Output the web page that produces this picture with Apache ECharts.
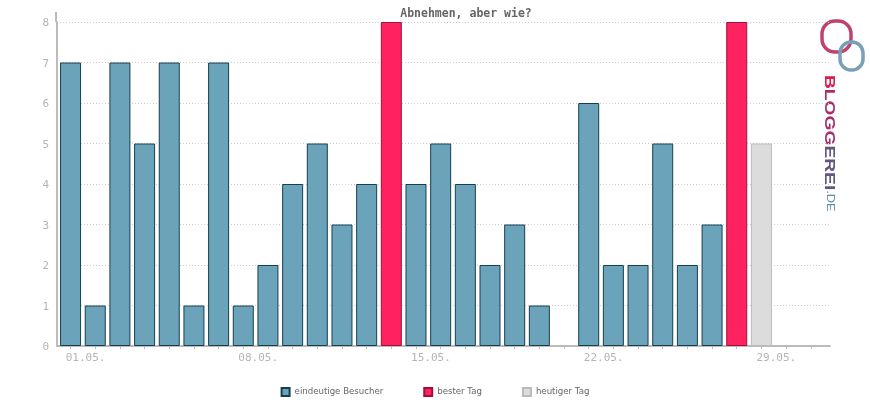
<!DOCTYPE html>
<html><head><meta charset="utf-8">
<script src="https://cdn.jsdelivr.net/npm/echarts@6/dist/echarts.min.js"></script>
<style>html,body{margin:0;padding:0;background:#fff}#c{width:870px;height:400px}</style>
</head><body><div id="c"></div>
<script>
const title = 'Abnehmen, aber wie?';
const days = ['01.05.','02.05.','03.05.','04.05.','05.05.','06.05.','07.05.','08.05.','09.05.','10.05.','11.05.','12.05.','13.05.','14.05.','15.05.','16.05.','17.05.','18.05.','19.05.','20.05.','21.05.','22.05.','23.05.','24.05.','25.05.','26.05.','27.05.','28.05.','29.05.','30.05.','31.05.'];
const visitors = [7,1,7,5,7,1,7,1,2,4,5,3,4,null,4,5,4,2,3,1,0,6,2,2,5,2,3,null,null,null,null];
const bestDay  = [null,null,null,null,null,null,null,null,null,null,null,null,null,8,null,null,null,null,null,null,null,null,null,null,null,null,null,8,null,null,null];
const today    = [null,null,null,null,null,null,null,null,null,null,null,null,null,null,null,null,null,null,null,null,null,null,null,null,null,null,null,null,5,null,null];
const xLabelDays = [1,8,15,22,29];
const yTicks = [0,1,2,3,4,5,6,7,8];

// zero-height bars are not drawn in the reference
const pairs = arr => arr.map((v,i)=> (v===null || v===0) ? null : [i+1, v]).filter(p=>p);
const mono = "'DejaVu Sans Mono', monospace";
const chart = echarts.init(document.getElementById('c'), null, {renderer:'canvas'});
const barW = 21;
const labelShift = 0.2; // labels start slightly left of their tick
chart.setOption({
  animation:false,
  title:{text:title, left:461, top:3, textAlign:'center',
    textStyle:{fontFamily:mono, fontSize:11.5, fontWeight:'bold', color:'#666'}},
  legend:{bottom:-2, left:'center', icon:'rect', itemWidth:8, itemHeight:8, itemGap:40,
    textStyle:{fontFamily:"'DejaVu Sans', sans-serif", fontSize:8.6, color:'#666'},
    data:['eindeutige Besucher','bester Tag','heutiger Tag']},
  grid:{left:57, right:40, top:22, bottom:54, containLabel:false},
  xAxis:{type:'value', min:0.45, max:31.78,
    axisLine:{show:true, lineStyle:{color:'#bbb', width:2}},
    axisTick:{show:true, length:3, lineStyle:{color:'#bbb', width:1}, customValues:days.map((d,i)=>i+1)},
    axisLabel:{customValues:xLabelDays.map(d=>d-labelShift), formatter:v=>days[Math.round(v)-1],
      align:'left', color:'#b4b4b4', fontFamily:mono, fontSize:11, margin:7},
    splitLine:{show:false}},
  yAxis:{type:'value', min:yTicks[0], max:yTicks[yTicks.length-1], interval:1,
    axisLine:{show:true, lineStyle:{color:'#bbb', width:2}},
    axisTick:{show:false},
    axisLabel:{color:'#b4b4b4', fontFamily:mono, fontSize:11, margin:8, verticalAlign:'top', padding:[-4,0,0,0]},
    splitLine:{show:true, lineStyle:{color:'#ccc', type:[1,2], width:1}}},
  series:[
    {name:'eindeutige Besucher', type:'bar', barWidth:barW, barGap:'-100%', data:pairs(visitors),
      itemStyle:{color:'#6ba3bb', borderColor:'#17404f', borderWidth:1, borderRadius:0}},
    {name:'bester Tag', type:'bar', barWidth:barW, barGap:'-100%', data:pairs(bestDay),
      itemStyle:{color:'#ff2160', borderColor:'#a0103c', borderWidth:1, borderRadius:0}},
    {name:'heutiger Tag', type:'bar', barWidth:barW, barGap:'-100%', data:pairs(today),
      itemStyle:{color:'#dcdcdc', borderColor:'#bbbbbb', borderWidth:1, borderRadius:0}}
  ],
  graphic:[
    {type:'line', shape:{x1:56, y1:12, x2:56, y2:22}, style:{stroke:'#bbb', lineWidth:2}, silent:true},
    {type:'rect', shape:{x:822, y:21, width:29, height:31, r:13}, style:{fill:'none', stroke:'#c04070', lineWidth:3.5}},
    {type:'rect', shape:{x:840, y:42, width:23, height:28, r:11}, style:{fill:'none', stroke:'#7aa0b8', lineWidth:3.5}},
    {type:'text', x:837, y:75, rotation:-Math.PI/2, scaleX:1.28, scaleY:1,
      style:{text:'{a|B}{b|LOGG}{c|EREI}{d|.DE}', fontFamily:"'DejaVu Sans', sans-serif",
        rich:{a:{fill:'#e0194f', fontSize:15, fontWeight:'bold'},
              b:{fill:'#a8306a', fontSize:15, fontWeight:'bold'},
              c:{fill:'#62577e', fontSize:15, fontWeight:'bold'},
              d:{fill:'#5a8ab0', fontSize:10}}}}
  ]
});
</script></body></html>
